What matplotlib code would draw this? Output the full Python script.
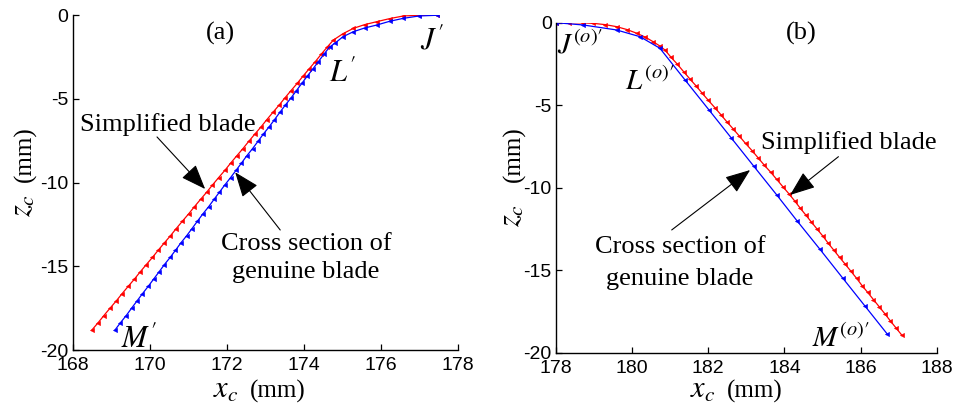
import matplotlib
matplotlib.use("Agg")
import matplotlib.pyplot as plt

plt.rcParams["axes.unicode_minus"] = False
plt.rcParams["mathtext.fontset"] = "stix"

# ---- (a) wheel-side profile: simplified blade vs. genuine cross section ----
a_simpl_x = [168.50, 168.66, 168.81, 168.97, 169.13, 169.28, 169.44, 169.60, 169.75, 169.91,
             170.07, 170.22, 170.38, 170.54, 170.69, 170.85, 171.01, 171.16, 171.32, 171.48,
             171.63, 171.79, 171.95, 172.10, 172.26, 172.42, 172.57, 172.73, 172.89, 173.04,
             173.20, 173.36, 173.51, 173.67, 173.83, 173.98, 174.14, 174.30, 174.45, 174.61,
             174.77, 175.02, 175.29, 175.58, 175.90, 176.23, 176.59, 177.00, 177.45]
a_simpl_z = [-18.80, -18.37, -17.94, -17.50, -17.07, -16.64, -16.20, -15.77, -15.34, -14.90,
             -14.47, -14.04, -13.60, -13.17, -12.74, -12.30, -11.87, -11.44, -11.00, -10.57,
             -10.14, -9.70, -9.27, -8.84, -8.40, -7.97, -7.54, -7.10, -6.67, -6.24,
             -5.80, -5.37, -4.94, -4.50, -4.07, -3.64, -3.20, -2.77, -2.34, -1.90,
             -1.48, -1.10, -0.78, -0.56, -0.38, -0.20, -0.04, 0.00, 0.00]

a_genu_x = [169.10, 169.24, 169.39, 169.53, 169.67, 169.81, 169.96, 170.10, 170.24, 170.38,
            170.53, 170.67, 170.81, 170.96, 171.10, 171.24, 171.38, 171.53, 171.67, 171.81,
            171.95, 172.10, 172.24, 172.38, 172.52, 172.67, 172.81, 172.95, 173.10, 173.24,
            173.38, 173.52, 173.67, 173.81, 173.95, 174.09, 174.24, 174.38, 174.52, 174.67,
            174.81, 175.02, 175.29, 175.58, 175.90, 176.23, 176.59, 177.00, 177.45]
a_genu_z = [-18.80, -18.37, -17.94, -17.50, -17.07, -16.64, -16.20, -15.77, -15.34, -14.90,
            -14.47, -14.04, -13.60, -13.17, -12.74, -12.30, -11.87, -11.44, -11.00, -10.57,
            -10.14, -9.70, -9.27, -8.84, -8.40, -7.97, -7.54, -7.10, -6.67, -6.24,
            -5.80, -5.37, -4.94, -4.50, -4.07, -3.64, -3.20, -2.77, -2.34, -1.90,
            -1.67, -1.28, -0.98, -0.76, -0.58, -0.36, -0.18, -0.04, 0.00]

# ---- (b) opposite-side profile ----
b_simpl_x = [178.00, 178.35, 178.70, 178.98, 179.30, 179.59, 179.87, 180.12, 180.35, 180.55,
             180.72, 180.86, 181.02, 181.19, 181.35, 181.51, 181.68, 181.84, 182.00, 182.17,
             182.33, 182.49, 182.66, 182.82, 182.98, 183.15, 183.31, 183.47, 183.64, 183.80,
             183.96, 184.12, 184.27, 184.41, 184.56, 184.71, 184.86, 185.01, 185.15, 185.30,
             185.45, 185.60, 185.75, 185.90, 186.04, 186.19, 186.34, 186.49, 186.64, 186.78,
             186.93, 187.08]
b_simpl_z = [0.00, 0.00, -0.01, -0.04, -0.12, -0.24, -0.42, -0.64, -0.88, -1.15,
             -1.40, -1.65, -2.09, -2.52, -2.96, -3.39, -3.83, -4.27, -4.70, -5.14,
             -5.57, -6.01, -6.45, -6.88, -7.32, -7.75, -8.19, -8.63, -9.06, -9.50,
             -9.94, -10.37, -10.80, -11.22, -11.65, -12.08, -12.51, -12.93, -13.36, -13.79,
             -14.22, -14.64, -15.07, -15.50, -15.93, -16.35, -16.78, -17.21, -17.64, -18.06,
             -18.49, -18.92]

b_genu_x = [178.00, 178.72, 179.59, 180.21, 180.73, 181.39, 182.02, 182.61, 183.19, 183.80,
            184.33, 184.93, 185.53, 186.11, 186.70]
b_genu_z = [0.00, -0.14, -0.44, -0.85, -1.55, -3.47, -5.29, -7.00, -8.68, -10.44,
            -12.00, -13.72, -15.47, -17.15, -18.86]

a_xticks = [168, 170, 172, 174, 176, 178]
b_xticks = [178, 180, 182, 184, 186, 188]
z_ticks = [0, -5, -10, -15, -20]

SERIF = "Liberation Serif"
SANS = "Liberation Sans"

fig = plt.figure(figsize=(9.54, 4.11), dpi=100)
ax_a = fig.add_axes([0.0762, 0.1484, 0.4036, 0.8144])
ax_b = fig.add_axes([0.5828, 0.1418, 0.3990, 0.8030])

line_kw = dict(lw=0.9, marker="<", ms=3.0, mew=0.4)


def style_axes(ax, xticks, xlim):
    ax.set_xlim(*xlim)
    ax.set_ylim(-20, 0)
    ax.set_xticks(xticks)
    ax.set_yticks(z_ticks)
    for s in ("top", "right"):
        ax.spines[s].set_visible(False)
    for s in ("left", "bottom"):
        ax.spines[s].set_linewidth(1.0)
    ax.tick_params(direction="in", length=4, width=0.9, labelsize=14)
    ax.tick_params(axis="x", pad=5)
    ax.tick_params(axis="y", pad=3)
    for lab in ax.get_xticklabels() + ax.get_yticklabels():
        lab.set_fontfamily(SANS)


def axis_titles(ax, var_x, unit_x, base_y, var_z, unit_z, base_x, xvar, zvar):
    # x-axis title: italic variable + upright unit, sharing one baseline
    ax.text(var_x, base_y, xvar, transform=ax.transAxes, fontsize=22,
            ha="left", va="baseline")
    ax.text(unit_x, base_y, "(mm)", transform=ax.transAxes, fontsize=18,
            family=SERIF, ha="left", va="baseline")
    # z-axis title, rotated
    ax.text(base_x, var_z, zvar, transform=ax.transAxes, fontsize=22,
            rotation=90, rotation_mode="anchor", ha="left", va="baseline")
    ax.text(base_x, unit_z, "(mm)", transform=ax.transAxes, fontsize=18,
            family=SERIF, rotation=90, rotation_mode="anchor",
            ha="left", va="baseline")


arrow = dict(arrowstyle="-|>,head_length=1.3,head_width=0.5", color="k",
             lw=0.8, mutation_scale=12, shrinkA=0, shrinkB=0)
txt = dict(fontsize=19, family=SERIF)
lbl = dict(fontsize=22)
lbl_b = dict(fontsize=21)

# panel (a)
ax_a.plot(a_simpl_x, a_simpl_z, color="#ff0000", **line_kw)
ax_a.plot(a_genu_x, a_genu_z, color="#0000ff", **line_kw)
style_axes(ax_a, a_xticks, (168, 178))
axis_titles(ax_a, 0.364, 0.461, -0.142, 0.397, 0.502, -0.108, r"$x_c$", r"$z_c$")

ax_a.text(171.83, -1.48, "(a)", ha="center", va="baseline", **txt)
ax_a.text(170.46, -6.9, "Simplified blade", ha="center", va="baseline", **txt)
ax_a.text(174.07, -14.03, "Cross section of", ha="center", va="baseline", **txt)
ax_a.text(174.04, -15.72, "genuine blade", ha="center", va="baseline", **txt)
ax_a.annotate("", xy=(171.44, -10.38), xytext=(170.19, -7.27), arrowprops=arrow)
ax_a.annotate("", xy=(172.22, -9.38), xytext=(173.39, -12.83), arrowprops=arrow)
ax_a.text(177.34, -2.07, r"$J^{\prime}$", ha="center", va="baseline", **lbl)
ax_a.text(175.0, -3.99, r"$L^{\prime}$", ha="center", va="baseline", **lbl)
ax_a.text(169.72, -19.88, r"$M^{\prime}$", ha="center", va="baseline", **lbl)

# panel (b)
ax_b.plot(b_simpl_x, b_simpl_z, color="#ff0000", **line_kw)
ax_b.plot(b_genu_x, b_genu_z, color="#0000ff", **line_kw)
style_axes(ax_b, b_xticks, (178, 188))
axis_titles(ax_b, 0.352, 0.449, -0.136, 0.381, 0.517, -0.0946, r"$x_c$", r"$z_c$")

ax_b.text(184.44, -1.05, "(b)", ha="center", va="baseline", **txt)
ax_b.text(185.68, -7.67, "Simplified blade", ha="center", va="baseline", **txt)
ax_b.text(181.26, -13.98, "Cross section of", ha="center", va="baseline", **txt)
ax_b.text(181.26, -15.9, "genuine blade", ha="center", va="baseline", **txt)
ax_b.annotate("", xy=(184.15, -10.44), xytext=(185.42, -8.12), arrowprops=arrow)
ax_b.annotate("", xy=(183.10, -8.93), xytext=(181.04, -12.56), arrowprops=arrow)
ax_b.text(178.03, -1.85, r"$J^{(o)\prime}$", ha="left", va="baseline", **lbl_b)
ax_b.text(179.80, -4.08, r"$L^{(o)\prime}$", ha="left", va="baseline", **lbl_b)
ax_b.text(184.72, -19.65, r"$M^{(o)\prime}$", ha="left", va="baseline", **lbl_b)

fig.savefig("out.png", dpi=100, facecolor="white")
